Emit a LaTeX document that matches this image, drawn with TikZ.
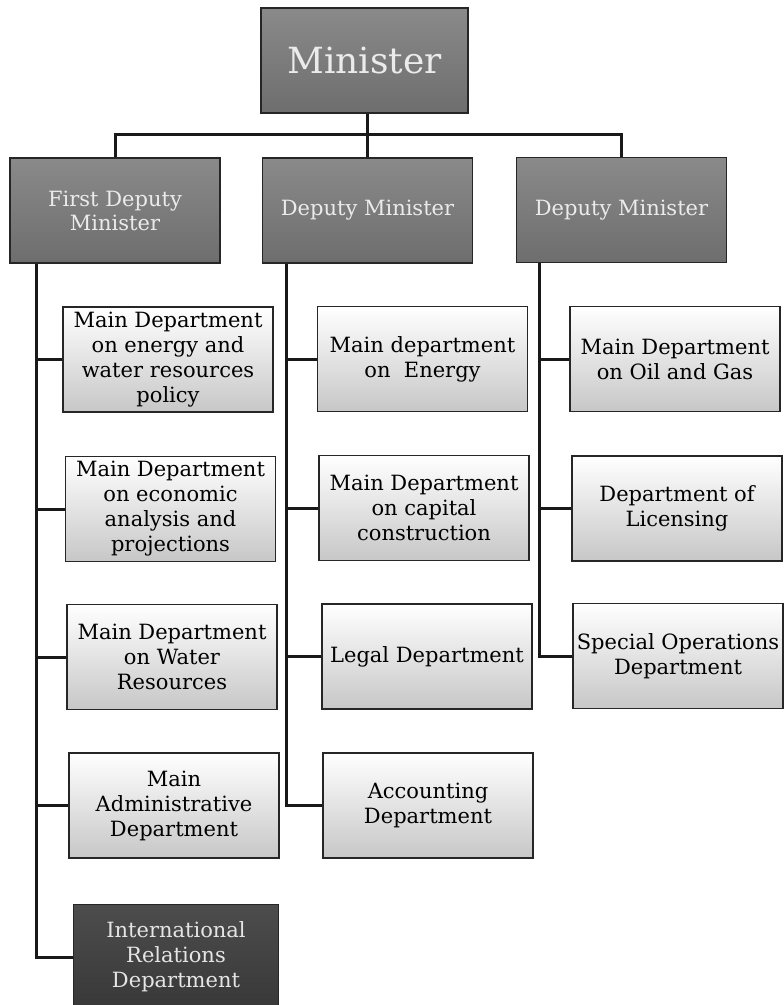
\documentclass[tikz,border=0pt]{standalone}
\usepackage{fontspec}
\setmainfont{DejaVu Serif}
\begin{document}
\begin{tikzpicture}[x=1pt,y=-1pt,
  box/.style={draw=black!85,line width=1.6pt,minimum width=210pt,minimum height=105pt,
    inner sep=1pt,align=center,font=\fontsize{21}{25}\selectfont},
  headbox/.style={box,top color=black!46,bottom color=black!57,text=white!92!black},
  unitbox/.style={box,top color=white,bottom color=black!22,text=black},
  darkbox/.style={box,top color=black!70,bottom color=black!78,text=white!90!black},
  link/.style={draw=black!90,line width=3pt}]
\useasboundingbox (0,0) rectangle (784,1005);

% top level
\node[headbox,minimum width=207pt,font=\fontsize{36}{40}\selectfont] (min) at (364.5,60.5) {Minister};

% deputies
\node[headbox,font=\fontsize{21}{24}\selectfont] (fd) at (115,210.5) {First Deputy\\Minister};
\node[headbox,font=\fontsize{21}{24}\selectfont] (dm) at (367.5,210.5) {Deputy Minister};
\node[headbox,font=\fontsize{21}{24}\selectfont] (dr) at (621.5,210) {Deputy Minister};

% left column
\node[unitbox] (l1) at (168,359.5) {Main Department\\on energy and\\water resources\\policy};
\node[unitbox] (l2) at (170.5,509) {Main Department\\on economic\\analysis and\\projections};
\node[unitbox] (l3) at (172,657) {Main Department\\on Water\\Resources};
\node[unitbox] (l4) at (174,805.5) {Main\\Administrative\\Department};
\node[darkbox,minimum width=205pt] (l5) at (176,957) {International\\Relations\\Department};

% middle column
\node[unitbox] (m1) at (422.5,359) {Main department\\on\ \ Energy};
\node[unitbox] (m2) at (424,508) {Main Department\\on capital\\construction};
\node[unitbox] (m3) at (427,656.5) {Legal Department};
\node[unitbox] (m4) at (428,805.5) {Accounting\\Department};

% right column
\node[unitbox] (r1) at (675,359) {Main Department\\on Oil and Gas};
\node[unitbox] (r2) at (677,508.5) {Department of\\Licensing};
\node[unitbox] (r3) at (678,656) {Special Operations\\Department};

% minister to deputies
\path (min.south) ++(0,21) coordinate (b0);
\coordinate (bar) at (b0 -| dm.north);
\draw[link] (dm.north) -- (dm.north |- min.south);
\draw[link] (fd.north) |- (bar) -| (dr.north);

% trunks
\coordinate (lt) at ([xshift=-79pt]fd.south);
\coordinate (mt) at ([xshift=-81pt]dm.south);
\coordinate (rt) at ([xshift=-82pt]dr.south);
\draw[link] (lt) |- (l5.west);
\foreach \b in {l1,l2,l3,l4} \draw[link] (lt |- \b.west) -- (\b.west);
\draw[link] (mt) |- (m4.west);
\foreach \b in {m1,m2,m3} \draw[link] (mt |- \b.west) -- (\b.west);
\draw[link] (rt) |- (r3.west);
\foreach \b in {r1,r2} \draw[link] (rt |- \b.west) -- (\b.west);
\end{tikzpicture}
\end{document}
